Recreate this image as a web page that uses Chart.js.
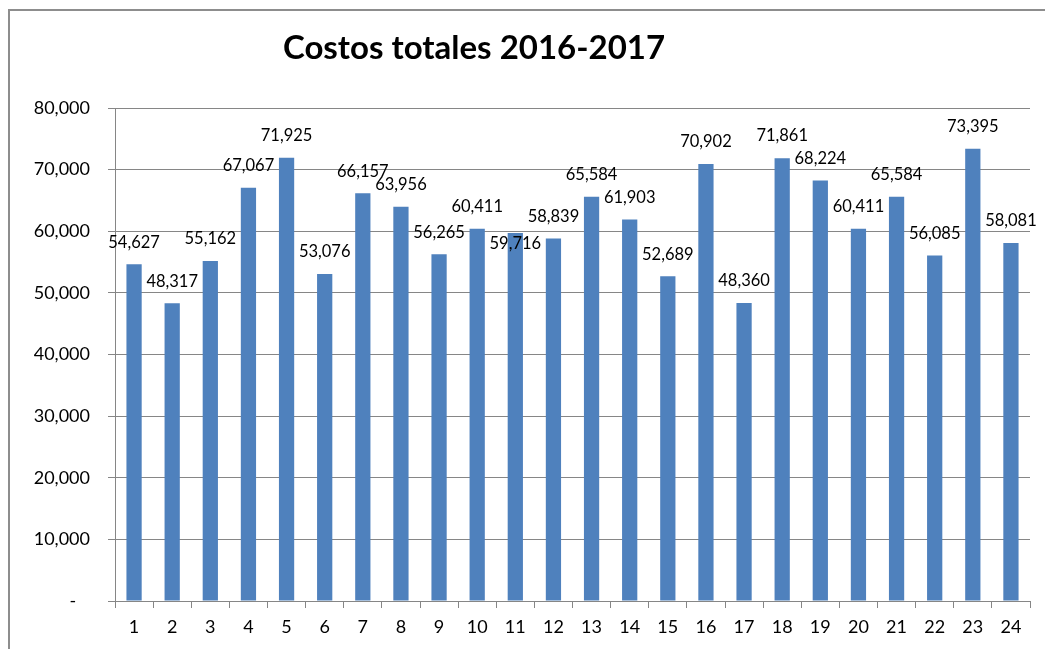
<!DOCTYPE html>
<html>
<head>
<meta charset="utf-8">
<title>Costos totales 2016-2017</title>
<script src="https://cdn.jsdelivr.net/npm/chart.js@4/dist/chart.umd.min.js"></script>
<style>
  html, body { margin: 0; padding: 0; background: #fff; }
  #wrap { position: relative; width: 1045px; height: 649px; overflow: hidden; }
  #frame { position: absolute; left: 8px; top: 9px; right: -4px; bottom: -4px;
           border-left: 2px solid #8d8d8d; border-top: 2px solid #8d8d8d; }
  #title { position: absolute; top: 26px; left: 0; width: 948px; text-align: center;
           font: bold 33px Lato, sans-serif; color: #000; }
  canvas { position: absolute; left: 0; top: 0; }
</style>
</head>
<body>
<div id="wrap">
  <div id="frame"></div>
  <canvas id="costChart" width="1045" height="649"></canvas>
  <div id="title">Costos totales 2016-2017</div>
</div>
<script>
// datos
const periods = ['1', '2', '3', '4', '5', '6', '7', '8', '9', '10', '11', '12',
                 '13', '14', '15', '16', '17', '18', '19', '20', '21', '22', '23', '24'];
const costs = [54627, 48317, 55162, 67067, 71925, 53076, 66157, 63956, 56265, 60411, 59716, 58839,
               65584, 61903, 52689, 70902, 48360, 71861, 68224, 60411, 65584, 56085, 73395, 58081];
const yMin = 0;
const yMax = 80000;
const yStep = 10000;

const gridGray = '#868686';
const fmt = v => v.toLocaleString('en-US');

// the label over bar 11 sits lower in the original
const labelShift = { 10: 33 };

const barLabels = {
    id: 'barLabels',
    afterDatasetsDraw(chart) {
        const { ctx } = chart;
        const meta = chart.getDatasetMeta(0);
        ctx.save();
        ctx.font = '16.5px Lato, sans-serif';
        ctx.fillStyle = '#000';
        ctx.textAlign = 'center';
        ctx.textBaseline = 'middle';
        meta.data.forEach((bar, i) => {
            ctx.fillText(fmt(costs[i]), bar.x, bar.y - 22 + (labelShift[i] || 0));
        });
        ctx.restore();
    }
};

new Chart(document.getElementById('costChart'), {
    type: 'bar',
    data: {
        labels: periods,
        datasets: [{
            data: costs,
            backgroundColor: '#4F81BD',
            borderWidth: 0,
            barPercentage: 0.4,
            categoryPercentage: 1.0
        }]
    },
    options: {
        responsive: false,
        animation: false,
        layout: { padding: { top: 108, right: 15, left: 0, bottom: 0 } },
        plugins: {
            legend: { display: false },
            tooltip: { enabled: false },
            title: { display: false }
        },
        scales: {
            x: {
                offset: true,
                grid: { drawOnChartArea: false, drawTicks: true, tickLength: 7, color: gridGray, offset: true },
                border: { color: gridGray },
                ticks: { color: '#000', font: { family: 'Lato', size: 18 }, padding: 8,
                         maxRotation: 0, autoSkip: false },
                afterFit(scale) { scale.height = 48; }
            },
            y: {
                min: yMin,
                max: yMax,
                grid: { color: gridGray, tickLength: 7 },
                border: { color: gridGray },
                ticks: {
                    stepSize: yStep,
                    color: '#000',
                    font: { family: 'Lato', size: 18 },
                    padding: 18,
                    callback: v => v === 0 ? '-   ' : fmt(v)
                },
                afterFit(scale) { scale.width = 115; }
            }
        }
    },
    plugins: [barLabels]
});
</script>
</body>
</html>
